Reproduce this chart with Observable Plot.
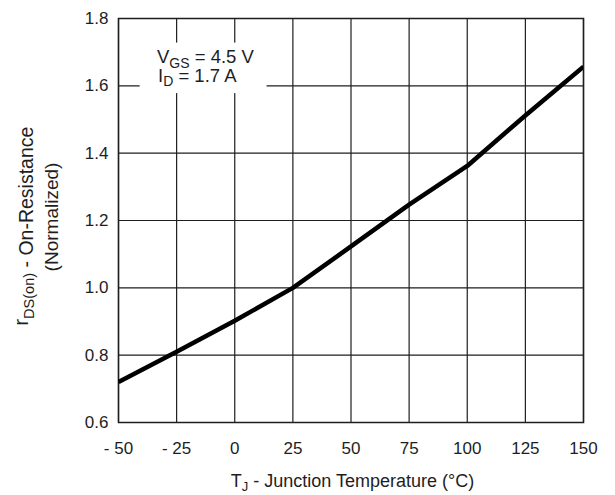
<!DOCTYPE html>
<html>
<head>
<meta charset="utf-8">
<script src="https://cdn.jsdelivr.net/npm/d3@7"></script>
<script src="https://cdn.jsdelivr.net/npm/@observablehq/plot@0.6"></script>
<style>
  html, body { margin: 0; padding: 0; background: #fff; }
  #chart svg { display: block; }
</style>
</head>
<body>
<div id="chart"></div>
<script>
// On-resistance vs. junction temperature (normalized to 25 °C)
const temperatures = [-50, -25, 0, 25, 50, 75, 100, 125, 150];
const resistance   = [0.72, 0.81, 0.902, 1.00, 1.123, 1.247, 1.362, 1.512, 1.657];

const xTicks      = [-50, -25, 0, 25, 50, 75, 100, 125, 150];
const xTickLabels = ["- 50", "- 25", "0", "25", "50", "75", "100", "125", "150"];
const yTicks      = [0.6, 0.8, 1.0, 1.2, 1.4, 1.6, 1.8];
const yTickLabels = ["0.6", "0.8", "1.0", "1.2", "1.4", "1.6", "1.8"];

const curve = temperatures.map((t, i) => ({t, r: resistance[i]}));

const font = "'Liberation Sans', Arial, Helvetica, sans-serif";
const ink = "#1e1e1e";

const plot = Plot.plot({
  width: 615,
  height: 495,
  marginLeft: 118,
  marginRight: 32,
  marginTop: 18,
  marginBottom: 73,
  style: {fontFamily: font, fontSize: "17px", color: ink, background: "#fff"},
  x: {domain: [-50, 150]},
  y: {domain: [0.6, 1.8]},
  marks: [
    Plot.ruleX(xTicks, {stroke: ink, strokeWidth: 1.2}),
    Plot.ruleY(yTicks, {stroke: ink, strokeWidth: 1.2}),
    // white panel behind the test-condition note
    Plot.rect([{}], {x1: -40.7, x2: 13.9, y1: 1.577, y2: 1.727, fill: "#fff"}),
    Plot.frame({stroke: ink, strokeWidth: 1.5}),
    Plot.line(curve, {x: "t", y: "r", stroke: "#000", strokeWidth: 4.5,
                      strokeLinecap: "butt", clip: true}),
    Plot.axisX({ticks: xTicks, tickFormat: d => xTickLabels[xTicks.indexOf(d)],
                tickSize: 0, tickPadding: 19, label: null, fontSize: 17}),
    Plot.axisY({ticks: yTicks, tickFormat: d => yTickLabels[yTicks.indexOf(d)],
                tickSize: 0, tickPadding: 10, label: null, fontSize: 17})
  ]
});

document.getElementById("chart").appendChild(plot);

// Titles and the note use subscripts, so they are written as SVG text with tspans.
const svg = d3.select(plot);
const sx = plot.scale("x");

function addText(parent, parts, attrs) {
  const t = parent.append("text")
    .attr("font-family", font)
    .attr("fill", ink)
    .attr("text-anchor", "start");
  for (const [k, v] of Object.entries(attrs)) t.attr(k, v);
  for (const p of parts) {
    const s = t.append("tspan").text(p.text);
    if (p.size) s.attr("font-size", p.size);
    if (p.dy) s.attr("dy", p.dy);
  }
  return t;
}

// x-axis title
addText(svg, [
  {text: "T"},
  {text: "J", size: 13, dy: 4},
  {text: " - Junction Temperature (°C)", dy: -4}
], {x: (sx.apply(-50) + sx.apply(150)) / 2 + 2, y: 487, "text-anchor": "middle", "font-size": 18});

// y-axis title, two lines
addText(svg, [
  {text: "r", dy: -5},
  {text: "DS(on)", size: 14.5, dy: 6},
  {text: " - On-Resistance", dy: -1}
], {transform: "translate(33,226) rotate(-90)", "text-anchor": "middle", "font-size": 19.5});
addText(svg, [{text: "(Normalized)"}],
  {transform: "translate(57.5,217) rotate(-90)", "text-anchor": "middle", "font-size": 19});

// test conditions
const nx = sx.apply(-50) + 39;
addText(svg, [
  {text: "V"},
  {text: "GS", size: 14, dy: 4.4},
  {text: " = 4.5 V", dy: -4.4}
], {x: nx, y: 63.3, "font-size": 18.5});
addText(svg, [
  {text: "I"},
  {text: "D", size: 14, dy: 4.4},
  {text: " = 1.7 A", dy: -4.4}
], {x: nx + 1, y: 81.7, "font-size": 18.5});
</script>
</body>
</html>
